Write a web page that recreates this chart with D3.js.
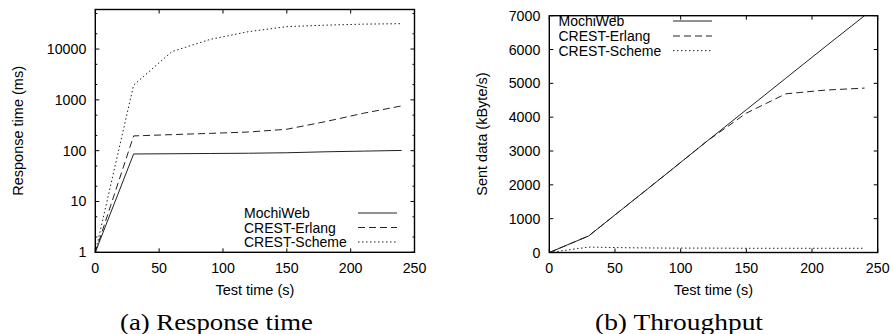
<!DOCTYPE html>
<html><head><meta charset="utf-8">
<script src="https://cdn.jsdelivr.net/npm/d3@7"></script>
<style>
body{margin:0;background:#fff;}
svg{display:block;}
text{font-family:"Liberation Sans",Arial,Helvetica,sans-serif;fill:#000;}
.cap{font-family:"Liberation Serif","Times New Roman",serif;}
</style></head>
<body>
<svg id="chart" width="893" height="334"></svg>
<script>
// ---- data ----
const times = [0, 30, 60, 90, 120, 150, 180, 210, 240];
const seriesNames = ["MochiWeb", "CREST-Erlang", "CREST-Scheme"];
// (a) Response time (ms), log scale
const respMochiWeb = [1, 86, 87, 88, 89, 91, 95, 98, 101];
const respErlang   = [1, 195, 207, 219, 233, 264, 372, 545, 760];
const respScheme   = [1, 1950, 8900, 15500, 22000, 27600, 29500, 30900, 31600];
// (b) Throughput (kByte/s)
const thrMochiWeb = [0, 490, 1420, 2350, 3290, 4220, 5150, 6080, 7000];
const thrErlang   = [0, 490, 1420, 2350, 3290, 4120, 4690, 4800, 4860];
const thrScheme   = [0, 160, 140, 130, 130, 125, 125, 125, 125];
const xTicks = [0, 50, 100, 150, 200, 250];
const yTicksLog = [1, 10, 100, 1000, 10000];
const yTicksLin = [0, 1000, 2000, 3000, 4000, 5000, 6000, 7000];

const svg = d3.select("#chart");
const dashes = ["none", "7,4", "1.5,2.5"];
const FS = "14.2px";
const LFS = "14px";

function panel(cfg) {
  const g = svg.append("g");
  const x = d3.scaleLinear().domain([0, 250]).range([cfg.left, cfg.right]);
  const y = cfg.y;
  const [b, t] = [cfg.bottom, cfg.top];

  xTicks.forEach(v => {
    g.append("line").attr("x1", x(v)).attr("x2", x(v)).attr("y1", b).attr("y2", b - 4).attr("stroke", "#000");
    g.append("line").attr("x1", x(v)).attr("x2", x(v)).attr("y1", t).attr("y2", t + 4).attr("stroke", "#000");
    g.append("text").attr("x", x(v)).attr("y", 268).attr("text-anchor", "middle")
      .attr("dominant-baseline", "central").style("font-size", FS).text(v);
  });
  cfg.yTicks.forEach(v => {
    g.append("line").attr("x1", cfg.left).attr("x2", cfg.left + 4).attr("y1", y(v)).attr("y2", y(v)).attr("stroke", "#000");
    g.append("line").attr("x1", cfg.right).attr("x2", cfg.right - 4).attr("y1", y(v)).attr("y2", y(v)).attr("stroke", "#000");
    g.append("text").attr("x", cfg.left - 9).attr("y", y(v)).attr("text-anchor", "end")
      .attr("dominant-baseline", "central").style("font-size", FS).text(v);
  });
  (cfg.minor || []).forEach(v => {
    g.append("line").attr("x1", cfg.left).attr("x2", cfg.left + 2).attr("y1", y(v)).attr("y2", y(v)).attr("stroke", "#000");
    g.append("line").attr("x1", cfg.right).attr("x2", cfg.right - 2).attr("y1", y(v)).attr("y2", y(v)).attr("stroke", "#000");
  });

  const line = d3.line().x((d, i) => x(times[i])).y(d => y(d));
  cfg.series.forEach((s, k) => {
    g.append("path").datum(s).attr("d", line).attr("fill", "none")
      .attr("stroke", "#222").attr("stroke-width", 1).attr("stroke-dasharray", dashes[k]);
  });

  g.append("rect").attr("x", cfg.left).attr("y", t).attr("width", cfg.right - cfg.left)
    .attr("height", b - t).attr("fill", "none").attr("stroke", "#000").attr("stroke-width", 1.4);

  seriesNames.forEach((n, k) => {
    const ly = cfg.legY[k];
    g.append("text").attr("x", cfg.legTextX).attr("y", ly).attr("dominant-baseline", "central")
      .style("font-size", LFS).text(n);
    g.append("line").attr("x1", cfg.legLine[0]).attr("x2", cfg.legLine[1]).attr("y1", ly).attr("y2", ly)
      .attr("stroke", "#222").attr("stroke-width", 1).attr("stroke-dasharray", dashes[k]);
  });

  g.append("text").attr("x", (cfg.left + cfg.right) / 2).attr("y", 290).attr("text-anchor", "middle")
    .attr("dominant-baseline", "central").style("font-size", "14.5px").text("Test time (s)");
  g.append("text").attr("transform", `translate(${cfg.yLabelX},${(t + b) / 2}) rotate(-90)`)
    .attr("text-anchor", "middle").attr("dominant-baseline", "central").style("font-size", "14.5px").text(cfg.yLabel);
  g.append("text").attr("class", "cap").attr("x", cfg.capX).attr("y", 322).attr("text-anchor", "middle")
    .attr("dominant-baseline", "central").style("font-size", "24px")
    .attr("textLength", cfg.capW).attr("lengthAdjust", "spacingAndGlyphs").text(cfg.caption);
}

const minorLog = [];
[1, 10, 100, 1000, 10000].forEach(d => [2, 5].forEach(m => minorLog.push(d * m)));

panel({
  left: 95.3, right: 414.5, top: 9.5, bottom: 252.3,
  y: d3.scaleLog().domain([1, 60000]).range([252.3, 9.5]),
  yTicks: yTicksLog, minor: minorLog,
  series: [respMochiWeb, respErlang, respScheme],
  legTextX: 244, legLine: [358, 397], legY: [213, 227.5, 242],
  yLabel: "Response time (ms)", yLabelX: 18,
  caption: "(a) Response time", capX: 216.5, capW: 193
});

panel({
  left: 549.3, right: 877.7, top: 15.7, bottom: 252.5,
  y: d3.scaleLinear().domain([0, 7000]).range([252.5, 15.7]),
  yTicks: yTicksLin,
  series: [thrMochiWeb, thrErlang, thrScheme],
  legTextX: 558.5, legLine: [673, 712], legY: [21, 36, 50.7],
  yLabel: "Sent data (kByte/s)", yLabelX: 482,
  caption: "(b) Throughput", capX: 679, capW: 168
});
</script>
</body></html>
